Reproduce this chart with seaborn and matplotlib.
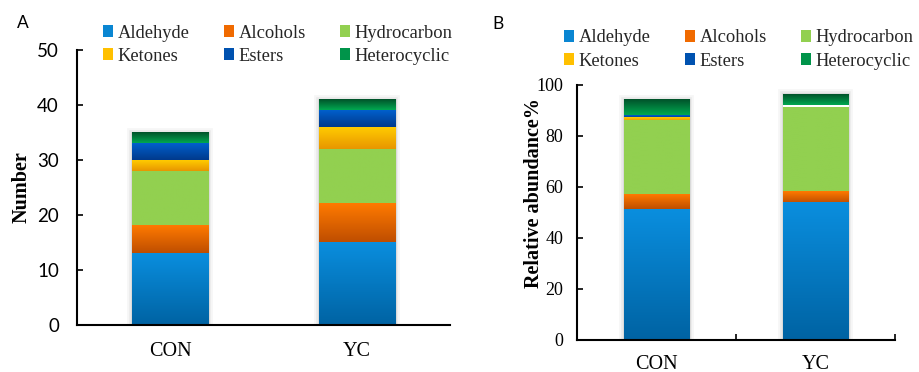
import numpy as np
import matplotlib
matplotlib.use("Agg")
import matplotlib.pyplot as plt
import matplotlib.patheffects as pe
from matplotlib.patches import Patch
from matplotlib.colors import LinearSegmentedColormap
import seaborn as sns

# ---------------- data ----------------
groups = ["CON", "YC"]
classes = ["Aldehyde", "Alcohols", "Hydrocarbon", "Ketones", "Esters", "Heterocyclic"]

# Panel A: number of compounds
num_aldehyde = [13, 15]
num_alcohols = [5, 7]
num_hydrocarbon = [10, 10]
num_ketones = [2, 4]
num_esters = [3, 3]
num_heterocyclic = [2, 2]

# Panel B: relative abundance (%)
rel_aldehyde = [51.3, 53.7]
rel_alcohols = [5.6, 4.7]
rel_hydrocarbon = [29.0, 32.9]
rel_ketones = [1.2, 0.35]
rel_esters = [1.0, 0.35]
rel_heterocyclic = [5.9, 4.2]

a_ticks = [0, 10, 20, 30, 40, 50]
b_ticks = [0, 20, 40, 60, 80, 100]

# ---------------- style ----------------
# (top colour, bottom colour) of each gradient
grad = {
    "Aldehyde": ("#0A8EDE", "#0063A3"),
    "Alcohols": ("#FF7A00", "#BF4E00"),
    "Hydrocarbon": ("#92D050", "#92D050"),
    "Ketones": ("#FFCB00", "#E89600"),
    "Esters": ("#005FCC", "#003A8C"),
    "Heterocyclic": ("#00522A", "#00A850"),
}
mid = {"Aldehyde": "#0A86D2", "Alcohols": "#F06A00", "Hydrocarbon": "#92D050",
       "Ketones": "#FFC000", "Esters": "#0052B0", "Heterocyclic": "#00944A"}

SERIF = ["Liberation Serif", "DejaVu Serif"]
SANS = ["Lato", "DejaVu Sans"]

sns.set_theme(style="white")
plt.rcParams["font.family"] = SERIF
plt.rcParams["axes.linewidth"] = 1.5

W = 0.41

fig = plt.figure(figsize=(9.19, 3.72), dpi=100)
axA = fig.add_axes([77 / 919, 1 - 325 / 372, (450 - 77) / 919, (325 - 50) / 372])
axB = fig.add_axes([577 / 919, 1 - 340 / 372, (895 - 577) / 919, (340 - 84.7) / 372])

grad_img = np.linspace(0, 1, 64).reshape(-1, 1)


def draw_panel(ax, series):
    vals = np.array(series, dtype=float)
    cums = np.cumsum(vals, axis=0)
    # glow / shadow base bar (total height)
    n0 = len(ax.patches)
    sns.barplot(x=groups, y=cums[-1], color="white", saturation=1, width=W,
                errorbar=None, ax=ax, zorder=1)
    for p in ax.patches[n0:]:
        p.set_linewidth(0)
        p.set_path_effects([
            pe.Stroke(linewidth=7, foreground="black", alpha=0.035),
            pe.Stroke(linewidth=4, foreground="black", alpha=0.05),
            pe.Stroke(linewidth=2, foreground="black", alpha=0.07),
            pe.Normal(),
        ])
    for i in reversed(range(len(classes))):
        name = classes[i]
        n0 = len(ax.patches)
        sns.barplot(x=groups, y=cums[i], color=mid[name], saturation=1, width=W,
                    errorbar=None, ax=ax, zorder=2)
        for j, p in enumerate(ax.patches[n0:]):
            p.set_linewidth(0)
            p.set_visible(False)
            x0, w, top = p.get_x(), p.get_width(), p.get_height()
            bottom = cums[i - 1][j] if i > 0 else 0.0
            if top - bottom <= 0:
                continue
            if top - bottom < 0.5:
                cmap = LinearSegmentedColormap.from_list("w", ["white", "white"])
            else:
                cmap = LinearSegmentedColormap.from_list(
                    name, [grad[name][1], grad[name][0]])
            ax.imshow(grad_img, cmap=cmap, aspect="auto", origin="lower",
                      extent=(x0, x0 + w, bottom, top), zorder=3,
                      interpolation="bilinear")
    ax.set_xlim(-0.5, 1.5)
    for s in ["top", "right"]:
        ax.spines[s].set_visible(False)
    for s in ["left", "bottom"]:
        ax.spines[s].set_color("black")
        ax.spines[s].set_linewidth(1.5)
        ax.spines[s].set_zorder(5)


draw_panel(axA, [num_aldehyde, num_alcohols, num_hydrocarbon,
                 num_ketones, num_esters, num_heterocyclic])
draw_panel(axB, [rel_aldehyde, rel_alcohols, rel_hydrocarbon,
                 rel_ketones, rel_esters, rel_heterocyclic])

# ---- Panel A axes ----
axA.set_ylim(0, 50)
axA.set_yticks(a_ticks)
axA.set_yticklabels([str(t) for t in a_ticks], family=SANS, fontsize=13.5, color="black")
axA.tick_params(axis="y", direction="in", length=4, width=1.2, pad=13, left=True, color="black")
axA.set_xticks([0, 1])
axA.set_xticklabels(groups, family=SERIF, fontsize=14.5, color="black")
axA.tick_params(axis="x", length=0, pad=12)
axA.set_ylabel("Number", family=SERIF, fontsize=14.5, fontweight="bold", color="black")
axA.yaxis.set_label_coords(-0.123, 0.5)
axA.set_xlabel("")

# ---- Panel B axes ----
axB.set_ylim(0, 100)
axB.set_yticks(b_ticks)
axB.set_yticklabels([str(t) for t in b_ticks], family=SERIF, fontsize=13, color="black")
axB.tick_params(axis="y", direction="in", length=4, width=1.2, pad=10, left=True, color="black")
axB.set_xticks([0, 1])
axB.set_xticklabels(groups, family=SERIF, fontsize=14.5, color="black")
axB.tick_params(axis="x", which="major", length=0, pad=11)
axB.set_xticks([0.5, 1.5], minor=True)
axB.tick_params(axis="x", which="minor", direction="in", length=4, width=1.2,
                bottom=True, color="black")
axB.set_ylabel("Relative abundance%", family=SERIF, fontsize=14.5, fontweight="bold",
               color="black")
axB.yaxis.set_label_coords(-0.1034, 0.576)
axB.set_xlabel("")

# ---- legends ----
order = ["Aldehyde", "Ketones", "Alcohols", "Esters", "Hydrocarbon", "Heterocyclic"]
handles = [Patch(facecolor=mid[c], edgecolor="none", label=c) for c in order]
for (x, y) in [(103 / 919, 1 - 24.5 / 372), (564 / 919, 1 - 29.5 / 372)]:
    fig.legend(handles=handles, loc="upper left", bbox_to_anchor=(x, y),
               bbox_transform=fig.transFigure, ncol=3, frameon=False,
               prop={"family": SERIF, "size": 13.3}, handlelength=0.55,
               handleheight=0.55, handletextpad=0.25, columnspacing=1.85,
               labelspacing=0.33, borderpad=0, borderaxespad=0)

fig.text(17 / 919, 1 - 28 / 372, "A", family=SANS, fontsize=12.5, color="black",
         va="baseline")
fig.text(492 / 919, 1 - 29 / 372, "B", family=SANS, fontsize=12.5, color="black",
         va="baseline")

fig.savefig("out.png", dpi=100, facecolor="white")
